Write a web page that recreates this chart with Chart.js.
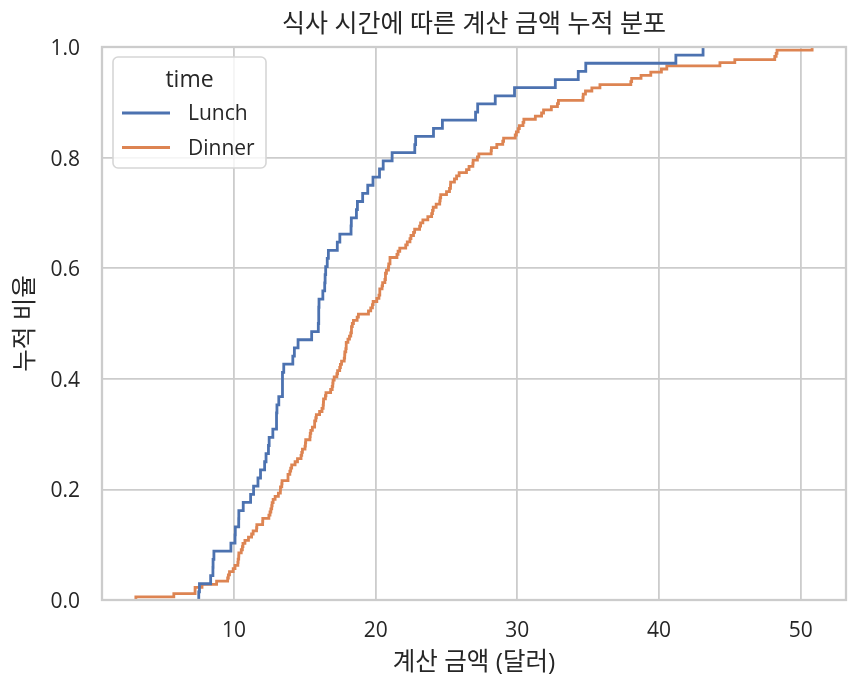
<!DOCTYPE html>
<html lang="ko">
<head>
<meta charset="utf-8">
<title>식사 시간에 따른 계산 금액 누적 분포</title>
<script src="https://cdn.jsdelivr.net/npm/chart.js@4.4.1/dist/chart.umd.min.js"></script>
<style>
  html, body { margin: 0; padding: 0; background: #fff; }
  #wrap { width: 860px; height: 691px; position: relative; }
</style>
</head>
<body>
<div id="wrap"><canvas id="ecdfChart"></canvas></div>
<script>
// 계산 금액 (달러) - 점심
const lunchBills = [
  27.20, 22.76, 17.29, 19.44, 16.66, 10.07, 32.68, 15.98, 34.83, 13.03,
  18.28, 24.71, 21.16, 10.65, 12.43, 24.08, 11.69, 13.42, 14.26, 15.95,
  12.48, 29.80, 8.52, 14.52, 11.38, 22.82, 19.08, 20.27, 11.17, 12.26,
  18.26, 8.51, 10.33, 14.15, 16.00, 13.16, 17.47, 34.30, 41.19, 27.05,
  16.43, 8.35, 18.64, 11.87, 9.78, 7.51, 19.81, 28.44, 15.48, 16.58,
  7.56, 10.34, 43.11, 13.00, 13.51, 18.71, 12.74, 13.00, 16.40, 20.53,
  16.47, 12.16, 13.42, 8.58, 15.98, 13.42, 16.27, 10.09
];

// 계산 금액 (달러) - 저녁
const dinnerBills = [
  16.99, 10.34, 21.01, 23.68, 24.59, 25.29, 8.77, 26.88, 15.04, 14.78,
  10.27, 35.26, 15.42, 18.43, 14.83, 21.58, 10.33, 16.29, 16.97, 20.65,
  17.92, 20.29, 15.77, 39.42, 19.82, 17.81, 13.37, 12.69, 21.70, 19.65,
  9.55, 18.35, 15.06, 20.69, 17.78, 24.06, 16.31, 16.93, 18.69, 31.27,
  16.04, 17.46, 13.94, 9.68, 30.40, 18.29, 22.23, 32.40, 28.55, 18.04,
  12.54, 10.29, 34.81, 9.94, 25.56, 19.49, 38.01, 26.41, 11.24, 48.27,
  20.29, 13.81, 11.02, 18.29, 17.59, 20.08, 16.45, 3.07, 20.23, 15.01,
  12.02, 17.07, 26.86, 25.28, 14.73, 10.51, 17.92,
  28.97, 22.49, 5.75, 16.32, 22.75, 40.17, 27.28, 12.03, 21.01, 12.46,
  11.35, 15.38, 44.30, 22.42, 20.92, 15.36, 20.49, 25.21, 18.24, 14.31,
  14.00, 7.25, 38.07, 23.95, 25.71, 17.31, 29.93,
  14.07, 13.13, 17.26, 24.55, 19.77, 29.85, 48.17, 25.00, 13.39, 16.49,
  21.50, 12.66, 16.21, 13.81, 17.51, 24.52, 20.76, 31.71, 10.59, 10.63,
  50.81, 15.81, 7.25, 31.85, 16.82, 32.90, 17.89, 14.48, 9.60, 34.63,
  34.65, 23.33, 45.35, 23.17, 40.55, 20.69, 20.90, 30.46, 18.15, 23.10,
  15.69,
  26.59, 38.73, 24.27, 12.76, 30.06, 25.89, 48.33, 13.27, 28.17, 12.90,
  28.15, 11.59, 7.74, 30.14,
  20.45, 13.28, 22.12, 24.01, 15.69, 11.61, 10.77, 15.53, 10.07, 12.60,
  32.83, 35.83, 29.03, 27.18, 22.67, 17.82, 18.78
];

const seriesNames = ["Lunch", "Dinner"];
const xTicks = [10, 20, 30, 40, 50];

const FONT = "'Open Sans', 'Noto Sans CJK KR', sans-serif";
const TEXT = "#262626";
const GRID = "#cccccc";

// 누적 분포 계단 좌표 만들기
const toEcdf = (values) => {
  const sorted = [...values].sort((a, b) => a - b);
  const pts = [{ x: sorted[0], y: 0 }];
  sorted.forEach((v, i) => pts.push({ x: v, y: (i + 1) / sorted.length }));
  return pts;
};

// 제목 (축 영역 가운데)
const titlePlugin = {
  id: "axTitle",
  afterDraw(chart) {
    const { ctx, chartArea } = chart;
    ctx.save();
    ctx.font = `25px ${FONT}`;
    ctx.fillStyle = TEXT;
    ctx.textAlign = "center";
    ctx.textBaseline = "middle";
    ctx.fillText("식사 시간에 따른 계산 금액 누적 분포", (chartArea.left + chartArea.right) / 2, 25);
    ctx.restore();
  }
};

// 네 변 테두리
const framePlugin = {
  id: "frame",
  afterDatasetsDraw(chart) {
    const { ctx, chartArea: a } = chart;
    ctx.save();
    ctx.strokeStyle = GRID;
    ctx.lineWidth = 2.3;
    ctx.strokeRect(a.left, a.top, a.right - a.left, a.bottom - a.top);
    ctx.restore();
  }
};

// 범례 (time)
const legendPlugin = {
  id: "timeLegend",
  afterDraw(chart) {
    const { ctx, chartArea: a } = chart;
    const x = a.left + 11, y = a.top + 10, w = 153, h = 111;
    ctx.save();
    ctx.beginPath();
    ctx.roundRect(x, y, w, h, 5);
    ctx.fillStyle = "rgba(255,255,255,0.8)";
    ctx.fill();
    ctx.strokeStyle = "#d6d6d6";
    ctx.lineWidth = 1.6;
    ctx.stroke();

    ctx.fillStyle = TEXT;
    ctx.textBaseline = "middle";
    ctx.textAlign = "center";
    ctx.font = `23px ${FONT}`;
    ctx.fillText("time", x + w / 2, y + 23);

    ctx.textAlign = "left";
    ctx.font = `21px ${FONT}`;
    chart.data.datasets.forEach((ds, i) => {
      const ly = y + 56 + i * 34.5;
      ctx.beginPath();
      ctx.moveTo(x + 9, ly);
      ctx.lineTo(x + 57, ly);
      ctx.strokeStyle = ds.borderColor;
      ctx.lineWidth = 2.8;
      ctx.stroke();
      ctx.fillText(ds.label, x + 75, ly + 1.5);
    });
    ctx.restore();
  }
};

const ctx = document.getElementById("ecdfChart").getContext("2d");
const chart = new Chart(ctx, {
  type: "line",
  data: {
    datasets: [
      {
        label: seriesNames[0],
        data: toEcdf(lunchBills),
        borderColor: "#4c72b0",
        borderWidth: 2.8,
        stepped: true,
        pointRadius: 0,
        fill: false
      },
      {
        label: seriesNames[1],
        data: toEcdf(dinnerBills),
        borderColor: "#dd8452",
        borderWidth: 2.8,
        stepped: true,
        pointRadius: 0,
        fill: false
      }
    ]
  },
  options: {
    responsive: true,
    maintainAspectRatio: false,
    animation: false,
    layout: { padding: { top: 47, right: 14, bottom: 0, left: 0 } },
    plugins: {
      legend: { display: false },
      title: { display: false },
      tooltip: { enabled: false }
    },
    scales: {
      x: {
        type: "linear",
        min: 0.68,
        max: 53.2,
        afterBuildTicks: (axis) => {
          axis.ticks = xTicks.map((v) => ({ value: v }));
        },
        afterFit: (scale) => { scale.height = 91; },
        grid: { color: GRID, lineWidth: 1.8, drawTicks: false },
        border: { display: false },
        ticks: {
          color: TEXT,
          font: { family: FONT, size: 21 },
          padding: 18,
          maxRotation: 0
        },
        title: {
          display: true,
          text: "계산 금액 (달러)",
          color: TEXT,
          font: { family: FONT, size: 24.5 },
          padding: { top: 0, bottom: 13 }
        }
      },
      y: {
        type: "linear",
        min: 0,
        max: 1,
        afterFit: (scale) => { scale.width = 102; },
        grid: { color: GRID, lineWidth: 1.8, drawTicks: false },
        border: { display: false },
        ticks: {
          stepSize: 0.2,
          color: TEXT,
          font: { family: FONT, size: 21 },
          padding: 22,
          labelOffset: 2,
          callback: (v) => v.toFixed(1)
        },
        title: {
          display: true,
          text: "누적 비율",
          color: TEXT,
          font: { family: FONT, size: 24.5 },
          padding: { top: 11, bottom: 0 }
        }
      }
    }
  },
  plugins: [titlePlugin, framePlugin, legendPlugin]
});
</script>
</body>
</html>
